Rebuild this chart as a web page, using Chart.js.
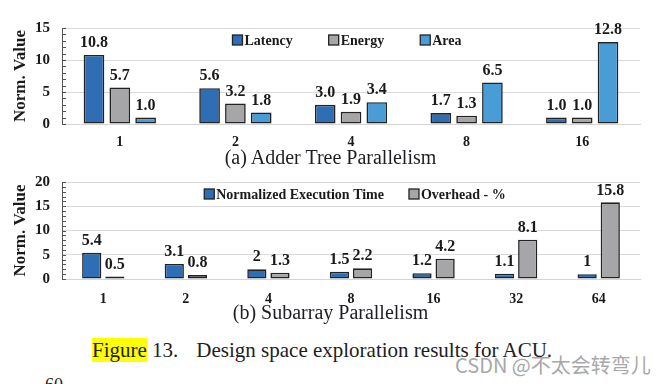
<!DOCTYPE html>
<html>
<head>
<meta charset="utf-8">
<script src="https://cdn.jsdelivr.net/npm/chart.js@4.4.0/dist/chart.umd.min.js"></script>
<style>
  html, body { margin: 0; padding: 0; background: #fff; }
  body { width: 661px; height: 384px; position: relative; overflow: hidden; }
  canvas { position: absolute; left: 0; }
  #chartA { top: 0; }
  #chartB { top: 160px; }
  .cap { position: absolute; font-family: "Liberation Serif", serif; color: #1d1d22; white-space: pre; line-height: 1; }
  #capA { left: 0; width: 661px; text-align: center; top: 147px; font-size: 20px; }
  #capB { left: 0; width: 661px; text-align: center; top: 302px; font-size: 20px; }
  #fig { left: 92px; top: 340px; font-size: 21px; }
  #fig span { background: #ffff00; }
  #fig .gap { background: none; padding-left: 18px; }
  #wm { position: absolute; left: 455px; top: 353px; font-family: "Noto Sans CJK SC", "Noto Sans", sans-serif; font-size: 20px; color: #a8a8a8; white-space: nowrap; line-height: 1.2; }
  #sixty { left: 45px; top: 376px; font-size: 18px; }
</style>
</head>
<body>
<canvas id="chartA" width="661" height="150"></canvas>
<canvas id="chartB" width="661" height="145"></canvas>
<div class="cap" id="capA">(a) Adder Tree Parallelism</div>
<div class="cap" id="capB">(b) Subarray Parallelism</div>
<div class="cap" id="fig"><span>Figure</span> 13.<span class="gap"></span>Design space exploration results for ACU.</div>
<div id="wm">CSDN @不太会转弯儿</div>
<div class="cap" id="sixty">60</div>
<script>
// (a) adder tree parallelism
const adderLabels = ['1', '2', '4', '8', '16'];
const latency = [10.8, 5.6, 3.0, 1.7, 1.0];
const energy = [5.7, 3.2, 1.9, 1.3, 1.0];
const area = [1.0, 1.8, 3.4, 6.5, 12.8];

// (b) subarray parallelism
const subLabels = ['1', '2', '4', '8', '16', '32', '64'];
const execTime = [5.4, 3.1, 2, 1.5, 1.2, 1.1, 1];
const overhead = [0.5, 0.8, 1.3, 2.2, 4.2, 8.1, 15.8];

const BLUE = '#2f6eb5';
const GRAY = '#a6a6a8';
const LIGHT = '#4a9cd6';
const SERIF = '"Liberation Serif", "Times New Roman", serif';

const valueLabels = {
    id: 'valueLabels',
    afterDatasetsDraw(chart, args, opts) {
        const ctx = chart.ctx;
        ctx.save();
        ctx.font = 'bold 16px ' + SERIF;
        ctx.fillStyle = '#1a1a1a';
        ctx.textAlign = 'center';
        ctx.textBaseline = 'bottom';
        chart.data.datasets.forEach((ds, i) => {
            chart.getDatasetMeta(i).data.forEach((bar, j) => {
                ctx.fillText(opts.format(ds.data[j]), bar.x, bar.y - 4);
            });
        });
        ctx.restore();
    }
};

const boxLegend = {
    id: 'boxLegend',
    afterDraw(chart, args, opts) {
        const { ctx, chartArea } = chart;
        ctx.save();
        ctx.font = 'bold 14px ' + SERIF;
        ctx.textBaseline = 'middle';
        const items = chart.data.datasets.map(ds => ({ ds, w: 12 + ctx.measureText(ds.label).width }));
        const total = items.reduce((s, it) => s + it.w, 0) + opts.gap * (items.length - 1);
        let x = (chartArea.left + chartArea.right) / 2 - total / 2 + opts.shift;
        const y = chartArea.top + opts.offset;
        items.forEach(it => {
            ctx.fillStyle = it.ds.backgroundColor;
            ctx.fillRect(x, y - 5, 10, 10);
            ctx.strokeStyle = '#222';
            ctx.lineWidth = 1.3;
            ctx.strokeRect(x, y - 5, 10, 10);
            ctx.fillStyle = '#1a1a1a';
            ctx.fillText(it.ds.label, x + 12, y + 1);
            x += it.w + opts.gap;
        });
        ctx.restore();
    }
};

const minorTicks = {
    id: 'minorTicks',
    afterDraw(chart) {
        const { ctx, chartArea } = chart;
        const y = chart.scales.y;
        ctx.save();
        ctx.strokeStyle = '#555';
        ctx.lineWidth = 1;
        for (let v = y.min; v <= y.max; v++) {
            const py = Math.round(y.getPixelForValue(v)) + 0.5;
            ctx.beginPath();
            ctx.moveTo(chartArea.left, py);
            ctx.lineTo(chartArea.left + 4, py);
            ctx.stroke();
        }
        ctx.restore();
    }
};

function makeOptions(max, cfg) {
    return {
        responsive: false,
        animation: false,
        layout: { padding: { top: cfg.top, right: 21, left: 0, bottom: 0 } },
        plugins: {
            legend: { display: false },
            tooltip: { enabled: false },
            valueLabels: { format: cfg.format },
            boxLegend: { gap: cfg.gap, shift: cfg.shift, offset: 12 }
        },
        scales: {
            x: {
                grid: { display: false, drawTicks: false },
                border: { color: '#d4d4d4', width: 1 },
                ticks: { color: '#1a1a1a', padding: cfg.xpad, font: { family: SERIF, size: 14, weight: 'bold' } },
                afterFit: s => { s.height = 26; }
            },
            y: {
                min: 0,
                max: max,
                ticks: {
                    stepSize: 1,
                    autoSkip: false,
                    padding: 12,
                    color: '#1a1a1a',
                    font: { family: SERIF, size: 15, weight: 'bold' },
                    callback: v => (v % 5 === 0 ? v : '')
                },
                grid: {
                    drawTicks: false,
                    color: c => (c.tick && c.tick.value % 5 === 0 ? '#d9d9d9' : 'rgba(0,0,0,0)')
                },
                border: { color: '#555', width: 1 },
                title: {
                    display: true,
                    text: 'Norm. Value',
                    color: '#1a1a1a',
                    padding: { top: 10, bottom: 0 },
                    font: { family: SERIF, size: 17, weight: 'bold' }
                },
                afterFit: s => { s.width = 62; }
            }
        }
    };
}

const barStyle = { borderColor: '#222', borderWidth: 1.6, borderSkipped: false };

new Chart(document.getElementById('chartA'), {
    type: 'bar',
    data: {
        labels: adderLabels,
        datasets: [
            { label: 'Latency', data: latency, backgroundColor: BLUE, ...barStyle, categoryPercentage: 0.67, barPercentage: 0.8 },
            { label: 'Energy', data: energy, backgroundColor: GRAY, ...barStyle, categoryPercentage: 0.67, barPercentage: 0.8 },
            { label: 'Area', data: area, backgroundColor: LIGHT, ...barStyle, categoryPercentage: 0.67, barPercentage: 0.8 }
        ]
    },
    options: makeOptions(15, { top: 28, format: v => v.toFixed(1), gap: 36, shift: -4, xpad: 10 }),
    plugins: [valueLabels, boxLegend, minorTicks]
});

new Chart(document.getElementById('chartB'), {
    type: 'bar',
    data: {
        labels: subLabels,
        datasets: [
            { label: 'Normalized Execution Time', data: execTime, backgroundColor: BLUE, ...barStyle, categoryPercentage: 0.56, barPercentage: 0.83 },
            { label: 'Overhead - %', data: overhead, backgroundColor: GRAY, ...barStyle, categoryPercentage: 0.56, barPercentage: 0.83 }
        ]
    },
    options: makeOptions(20, { top: 22, format: v => String(v), gap: 25, shift: 4, xpad: 12 }),
    plugins: [valueLabels, boxLegend, minorTicks]
});
</script>
</body>
</html>
